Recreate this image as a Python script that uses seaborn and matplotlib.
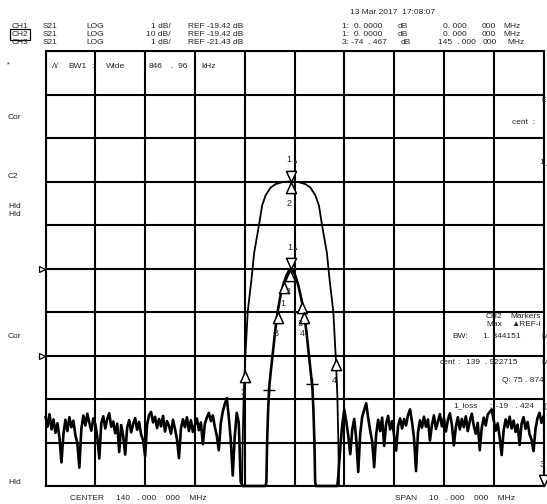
import numpy as np
import matplotlib
matplotlib.use("Agg")
import matplotlib.pyplot as plt
import matplotlib.transforms as mtransforms
import seaborn as sns

sns.set_theme(style="white")
plt.rcParams["font.family"] = ["Liberation Sans", "DejaVu Sans"]

# ---- sweep / channel setup ----
center_mhz = 140.0
span_mhz = 10.0
n_div = 10
channels = ["CH1", "CH2", "CH3"]
params = ["S21", "S21", "S21"]
formats = ["LOG", "LOG", "LOG"]
scale_db = [1.0, 10.0, 1.0]
ref_db = [-19.42, -19.42, -21.43]
ref_pos = [7, 5, 3]

# ---- CH1: passband detail, 1 dB/div ----
ch1_freq = [135.0, 138.90, 138.946, 138.96, 138.98, 139.007, 139.06, 139.135,
            139.19, 139.287, 139.35, 139.42, 139.52, 139.62, 139.77, 139.92,
            140.07, 140.22, 140.32, 140.42, 140.49, 140.553, 140.65, 140.705,
            140.78, 140.833, 140.86, 140.88, 140.894, 140.94, 145.0]
ch1_db = [-40.0, -40.0, -26.42, -25.36, -24.33, -23.57, -22.42, -21.68,
          -21.06, -20.42, -19.97, -19.74, -19.56, -19.48, -19.43, -19.42,
          -19.43, -19.48, -19.56, -19.74, -19.97, -20.42, -21.06, -21.68,
          -22.42, -23.57, -24.33, -25.36, -26.42, -40.0, -40.0]

# ---- CH2: wideband response, 10 dB/div ----
ch2_noise_left_db = [
    -53.5, -55.8, -52.9, -56.4, -54.1, -57.2, -55.0, -58.3, -64.0,
    -57.5, -54.2, -56.8, -53.6, -55.9, -54.4, -57.7, -59.6, -65.2,
    -56.3, -53.2, -55.5, -52.8, -54.9, -56.7, -53.9, -55.2, -58.1, -63.1,
    -55.0, -53.4, -56.2, -54.0, -52.7, -55.8, -54.6, -57.3, -55.1, -61.6,
    -55.4, -57.9, -62.2,
    -56.0, -54.3, -57.1, -55.2, -53.8, -56.5, -54.7, -57.6, -58.9, -62.6,
    -55.3, -53.1, -52.4, -54.8, -53.5, -56.1, -54.0, -55.7, -53.3, -56.9,
    -54.5, -55.6, -57.4, -54.2, -56.3, -58.7, -63.0,
    -56.2, -54.1, -55.9, -53.6, -56.8, -54.3, -57.0, -55.4, -53.9, -56.6,
    -54.8, -59.8,
    -55.1, -53.7, -52.6, -54.5, -53.2, -55.8, -57.9, -61.2,
    -55.0, -52.3, -50.6, -49.2, -53.5, -58.8, -67.0, -58.0, -52.6, -54.8,
    -68.5]
ch2_band_freq = [138.96, 139.42, 139.435, 139.45, 139.47, 139.49, 139.52,
                 139.56, 139.61, 139.66, 139.72, 139.78, 139.84, 139.89,
                 139.925, 139.96, 140.01, 140.07, 140.13, 140.19, 140.24,
                 140.29, 140.33, 140.36, 140.38, 140.40, 140.415, 140.43,
                 140.86]
ch2_band_db = [-80.0, -80.0, -68.5, -59.4, -52.0, -46.9, -43.5,
               -39.4, -34.0, -29.4, -25.6, -22.9, -21.0, -19.9,
               -19.42, -19.8, -20.9, -23.0, -26.0, -29.4, -34.0,
               -39.4, -43.5, -46.9, -52.0, -59.4, -68.5, -80.0,
               -80.0]
ch2_noise_right_db = [
    -67.0, -60.5, -55.2, -51.8, -54.6, -57.9, -62.1, -56.4, -54.0, -58.7,
    -66.2, -57.3, -53.5, -51.9, -50.4, -53.8, -56.7, -59.2, -65.1, -57.5,
    -54.2, -56.8, -53.7, -60.2, -55.1, -53.3, -56.4, -54.5, -57.8, -61.3,
    -55.6, -53.9, -56.2, -54.0, -55.5, -53.1, -51.8, -54.7, -58.4, -66.0,
    -57.1, -54.3, -56.0, -53.5, -55.8, -54.1, -59.0, -55.4, -53.2, -56.3,
    -54.6, -52.9, -55.7, -53.8, -56.9, -54.2, -52.7, -55.3, -60.1, -55.8,
    -53.6, -56.4, -54.0, -55.9, -53.4, -56.8, -54.5, -52.8, -55.6, -57.4,
    -54.9, -61.2, -56.0, -53.7, -55.5, -53.0, -52.4, -51.8, -54.3, -56.7,
    -55.0, -58.2, -62.3, -56.6, -54.1, -55.9, -53.5, -56.2, -54.4, -57.0,
    -55.3, -60.0, -55.1, -53.6, -56.3, -54.7, -57.5, -58.8, -61.4, -56.2,
    -53.8, -52.6, -54.9, -53.4]
noise_step_mhz = 0.04
noise_left_start = 135.0
noise_right_start = 140.88

# ---- markers: (frequency MHz, label, shape) ----
ch1_markers = [(139.92, "1", "down"), (139.92, "2", "up"),
               (139.0, "3", "up"), (140.83, "4", "up")]
ch2_markers = [(139.93, "1", "down"), (139.90, "2", "up"),
               (139.79, "1", "up"), (140.15, "3", "up"),
               (139.66, "3", "up"), (140.19, "4", "up")]
ch2_cross_freq = [139.488, 140.351]
ch2_edge_marker_freq = 145.0
ch2_edge_marker_db = -74.467


def to_div(db, ch):
    d = ref_pos[ch] + (np.asarray(db, float) - ref_db[ch]) / scale_db[ch]
    return np.clip(d, 0, n_div)


W, H = 547, 504
fig = plt.figure(figsize=(W / 100, H / 100), dpi=100)
fig.patch.set_facecolor("white")
L, R, T, B = 45.5, 543.5, 51.0, 486.0
ax = fig.add_axes([L / W, 1 - B / H, (R - L) / W, (B - T) / H])
ax.set_facecolor("white")

fmin, fmax = center_mhz - span_mhz / 2, center_mhz + span_mhz / 2
ax.set_xlim(fmin, fmax)
ax.set_ylim(0, n_div)
ax.set_xticks(np.linspace(fmin, fmax, 11))
ax.set_yticks(np.arange(0, n_div + 1))
ax.grid(True, color="black", lw=1.5)
ax.tick_params(length=0, labelbottom=False, labelleft=False)
for s in ax.spines.values():
    s.set_color("black")
    s.set_linewidth(1.5)

# CH1 trace
ch1_div = to_div(ch1_db, 0)
sns.lineplot(x=ch1_freq, y=ch1_div, ax=ax, color="black", lw=1.3,
             estimator=None, sort=False, legend=False, clip_on=False)

# CH2 trace assembled from noise floor and passband
nl_freq = noise_left_start + noise_step_mhz * np.arange(len(ch2_noise_left_db))
nr_freq = noise_right_start + noise_step_mhz * np.arange(len(ch2_noise_right_db))
ch2_freq = np.concatenate([nl_freq, ch2_band_freq, nr_freq])
ch2_db = np.concatenate([ch2_noise_left_db, ch2_band_db, ch2_noise_right_db])
ch2_div = to_div(ch2_db, 1)
sns.lineplot(x=ch2_freq, y=ch2_div, ax=ax, color="black", lw=1.9,
             estimator=None, sort=False, legend=False, clip_on=False)

up_tri = [(0, 0), (-0.45, -1), (0.45, -1), (0, 0)]
down_tri = [(0, 0), (-0.45, 1), (0.45, 1), (0, 0)]


def draw_marker(f, ydiv, label, shape, active=False):
    m = up_tri if shape == "up" else down_tri
    ax.plot([f], [ydiv], marker=m, ms=16, mfc="white", mec="black",
            mew=1.1, clip_on=False, zorder=5)
    dy = -15.5 if shape == "up" else 15.5
    ax.annotate(label, (f, ydiv), xytext=(-1, dy), textcoords="offset points",
                ha="center", va="center", fontsize=6.5, zorder=6)
    if active:
        ax.annotate("▲", (f, ydiv), xytext=(3.5, dy - 1),
                    textcoords="offset points", ha="center", va="center",
                    fontsize=4, zorder=6)


for f, lab, shp in ch1_markers:
    y = float(np.interp(f, ch1_freq, ch1_div))
    draw_marker(f, y, lab, shp, active=(shp == "down"))
for f, lab, shp in ch2_markers:
    y = float(np.interp(f, ch2_freq, ch2_div))
    draw_marker(f, y, lab, shp, active=(shp == "down"))
for f in ch2_cross_freq:
    y = float(np.interp(f, ch2_freq, ch2_div))
    ax.plot([f], [y], marker="+", ms=8, mew=1.0, color="black", zorder=5)
draw_marker(ch2_edge_marker_freq, float(to_div(ch2_edge_marker_db, 1)),
            "3", "down")

# reference position indicators
blend = mtransforms.blended_transform_factory(ax.transAxes, ax.transData)
for p in ref_pos[1:]:
    ax.plot([-0.008], [p], marker=">", ms=4, mfc="white", mec="black",
            mew=0.9, transform=blend, clip_on=False)


def txt(x, y, s, **kw):
    kw.setdefault("fontsize", 6)
    kw.setdefault("va", "center")
    fig.text(x / W, 1 - y / H, s, **kw)


# header
txt(350, 12, "13 Mar 2017  17:08:07")
rows_y = [26, 34.5, 43]
for i, ch in enumerate(channels):
    y = rows_y[i]
    if ch == "CH2":
        txt(12, y, ch, bbox=dict(boxstyle="square,pad=0.2", fc="none",
                                 ec="black", lw=0.9))
    else:
        txt(12, y, ch)
    txt(43, y, params[i])
    txt(86, y, formats[i])
    txt(171, y, f"{scale_db[i]:g} dB/", ha="right")
    txt(188, y, f"REF {ref_db[i]:.2f} dB")
txt(342, 26, "1:  0. 0000")
txt(398, 26, "dB")
txt(443, 26, "0. 000")
txt(482, 26, "000")
txt(503, 26, "MHz")
txt(342, 34.5, "1:  0. 0000")
txt(398, 34.5, "dB")
txt(443, 34.5, "0. 000")
txt(482, 34.5, "000")
txt(503, 34.5, "MHz")
txt(342, 43, "3: -74  . 467")
txt(401, 43, "dB")
txt(438, 43, "145  . 000")
txt(483, 43, "000")
txt(507, 43, "MHz")

# bandwidth readout in the top row
txt(52, 67, "Λ∕", fontsize=5.5)
txt(68, 67, "BW1")
txt(91, 67, ":")
txt(106, 67, "Wide")
txt(149, 67, "846")
txt(171, 67, ".  96")
txt(201, 67, "kHz")

# softkey column on the left
txt(7, 65, "*", fontsize=5)
txt(8, 117, "Cor")
txt(8, 176, "C2")
txt(8, 207, "Hld")
txt(8, 215, "Hld")
txt(8, 337, "Cor")
txt(8, 482, "Hld")

# partially visible readout on the right
txt(541, 101, "E", fontsize=5)
txt(512, 123, "cent  :")
txt(539, 162, "1_")

# CH2 marker readout
txt(486, 316, "CH2")
txt(510, 316, "Markers")
txt(486, 325, "Max")
txt(511, 325, "▲REF-I")
txt(452, 336, "BW:")
txt(483, 336, "1. 844151")
txt(541, 336, "M")
txt(440, 362, "cent")
txt(457, 362, ":")
txt(466, 362, "139  . 922715")
txt(541, 362, "M")
txt(502, 381, "Q: 75 . 874")
txt(453, 406, "1_loss")
txt(489, 406, ":")
txt(496, 406, "-19   . 424")
txt(543, 406, "(")

# sweep footer
txt(70, 498, "CENTER     140   . 000    000    MHz")
txt(395, 498, "SPAN     10   . 000    000    MHz")

fig.savefig("out.png", dpi=100, facecolor="white")
